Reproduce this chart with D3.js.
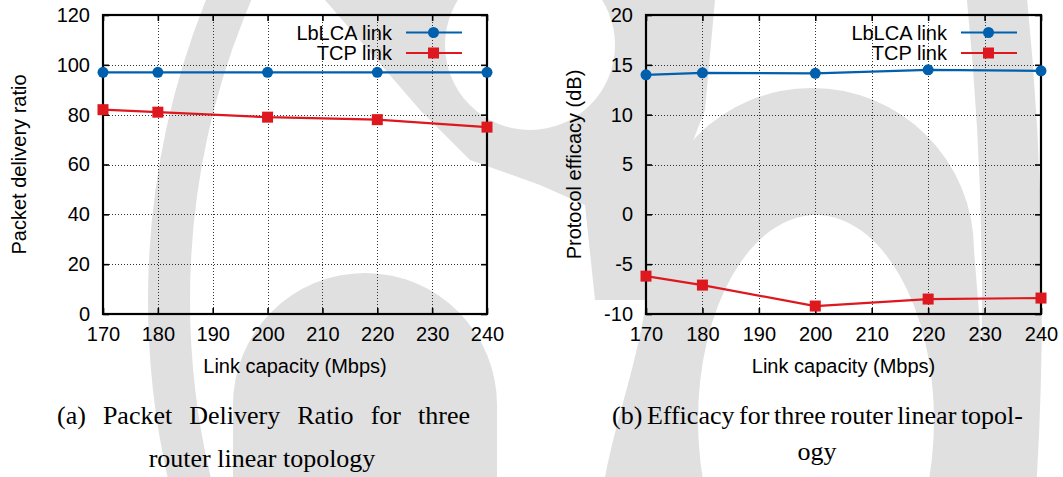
<!DOCTYPE html>
<html>
<head>
<meta charset="utf-8">
<script src="https://cdn.jsdelivr.net/npm/d3@7"></script>
<style>
  html, body { margin: 0; padding: 0; background: #ffffff; }
  svg { display: block; }
</style>
</head>
<body>
<svg id="fig" width="1063" height="477"></svg>
<script>
// Link capacities (Mbps) measured in both experiments
const capacity = [170, 180, 200, 220, 240];

// Packet delivery ratio per link type
const pdrLbLCA = [97, 97, 97, 97, 97];
const pdrTCP = [82, 81, 79, 78, 75];

// Protocol efficacy (dB) per link type
const effLbLCA = [14.0, 14.2, 14.15, 14.5, 14.4];
const effTCP = [-6.2, -7.1, -9.2, -8.5, -8.4];

// Axis ticks
const xTicks = [170, 180, 190, 200, 210, 220, 230, 240];
const pdrTicks = [0, 20, 40, 60, 80, 100, 120];
const effTicks = [-10, -5, 0, 5, 10, 15, 20];

const seriesNames = ["LbLCA link", "TCP link"];
const xTitle = "Link capacity (Mbps)";
const pdrTitle = "Packet delivery ratio";
const effTitle = "Protocol efficacy (dB)";
const captionA = ["(a) Packet Delivery Ratio for three", "router linear topology"];
const captionB = ["(b) Efficacy for three router linear topol-", "ogy"];

const BLUE = "#0060ad";
const RED = "#dd181f";
const SANS = "'Liberation Sans', Arial, Helvetica, sans-serif";
const SERIF = "'Liberation Serif', 'Times New Roman', serif";

const svg = d3.select("#fig");

// ---- faint background emblem ----
const bg = svg.append("g").attr("class", "emblem");
const EMB = "#e0e0e0";
// long sweeping band on the left
bg.append("circle").attr("cx", 954).attr("cy", 300).attr("r", 785)
  .attr("fill", "none").attr("stroke", EMB).attr("stroke-width", 42);
// long band on the right edge
bg.append("circle").attr("cx", -2000).attr("cy", 300).attr("r", 3012)
  .attr("fill", "none").attr("stroke", EMB).attr("stroke-width", 60);
// upper crescent
bg.append("path")
  .attr("d", "M325,0 L715,0 L705,110 L670,200 L660,300 L595,300 L585,205 L540,185 L470,160 L420,110 Z")
  .attr("fill", EMB);
bg.append("circle").attr("cx", 530).attr("cy", 45).attr("r", 85).attr("fill", "#ffffff");
// lower-left dome
bg.append("path")
  .attr("d", "M233,477 L233,405 A132,132 0 0 1 497,405 L497,477 Z")
  .attr("fill", EMB);
// lower-right arch
bg.append("path")
  .attr("d", "M605,477 C620,400 650,330 650,250 A162,162 0 0 1 974,250 L992,477 Z")
  .attr("fill", EMB);
bg.append("ellipse").attr("cx", 816).attr("cy", 420).attr("rx", 118).attr("ry", 205)
  .attr("fill", "#ffffff");

// ---- panel drawing ----
function drawPanel(opt) {
  const g = svg.append("g");
  const x = d3.scaleLinear().domain([170, 240]).range([opt.left, opt.right]);
  const y = d3.scaleLinear().domain(opt.yDomain).range([opt.bottom, opt.top]);

  // dotted grid
  const grid = g.append("g").attr("stroke", "#333").attr("stroke-width", 1)
    .attr("stroke-dasharray", "1,2");
  grid.selectAll("line.v").data(xTicks.slice(1, -1)).join("line")
    .attr("x1", d => Math.round(x(d)) + 0.5).attr("x2", d => Math.round(x(d)) + 0.5)
    .attr("y1", opt.bottom).attr("y2", opt.top);
  grid.selectAll("line.h").data(opt.yTicks.slice(1, -1)).join("line")
    .attr("y1", d => Math.round(y(d)) + 0.5).attr("y2", d => Math.round(y(d)) + 0.5)
    .attr("x1", opt.left).attr("x2", opt.right);

  // axes with inward ticks on all four sides
  const axB = d3.axisBottom(x).tickValues(xTicks).tickSize(-6).tickPadding(13)
    .tickFormat(d => String(d));
  const axT = d3.axisTop(x).tickValues(xTicks).tickSize(-6).tickFormat("");
  const axL = d3.axisLeft(y).tickValues(opt.yTicks).tickSize(-6).tickPadding(13)
    .tickFormat(d => String(d));
  const axR = d3.axisRight(y).tickValues(opt.yTicks).tickSize(-6).tickFormat("");

  const styleAxis = sel => {
    sel.select(".domain").remove();
    sel.selectAll(".tick line").attr("stroke", "#000").attr("stroke-width", 1.6);
    sel.selectAll(".tick text").attr("fill", "#000")
      .style("font-family", SANS).style("font-size", "20px");
  };
  g.append("g").attr("transform", `translate(0,${opt.bottom})`).call(axB).call(styleAxis);
  g.append("g").attr("transform", `translate(0,${opt.top})`).call(axT).call(styleAxis);
  g.append("g").attr("transform", `translate(${opt.left},0)`).call(axL).call(styleAxis);
  g.append("g").attr("transform", `translate(${opt.right},0)`).call(axR).call(styleAxis);

  // frame
  g.append("rect").attr("x", opt.left).attr("y", opt.top)
    .attr("width", opt.right - opt.left).attr("height", opt.bottom - opt.top)
    .attr("fill", "none").attr("stroke", "#000").attr("stroke-width", 2.2);

  // series
  const line = d3.line().x(d => x(d[0])).y(d => y(d[1]));
  const blue = capacity.map((c, i) => [c, opt.blue[i]]);
  const red = capacity.map((c, i) => [c, opt.red[i]]);

  g.append("path").datum(blue).attr("d", line).attr("fill", "none")
    .attr("stroke", BLUE).attr("stroke-width", 2.2);
  g.selectAll("circle.pt").data(blue).join("circle")
    .attr("cx", d => x(d[0])).attr("cy", d => y(d[1])).attr("r", 5.5).attr("fill", BLUE);

  g.append("path").datum(red).attr("d", line).attr("fill", "none")
    .attr("stroke", RED).attr("stroke-width", 2.2);
  g.selectAll("rect.pt").data(red).join("rect")
    .attr("x", d => x(d[0]) - 5.5).attr("y", d => y(d[1]) - 5.5)
    .attr("width", 11).attr("height", 11).attr("fill", RED);

  // legend
  const lg = g.append("g");
  const rows = [{name: seriesNames[0], color: BLUE, shape: "circle"},
                {name: seriesNames[1], color: RED, shape: "square"}];
  rows.forEach((r, i) => {
    const cy = opt.top + 17.5 + i * 20.5;
    lg.append("text").attr("x", opt.legendText).attr("y", cy).attr("dy", "0.35em")
      .attr("text-anchor", "end").style("font-family", SANS).style("font-size", "20px")
      .attr("fill", "#000").text(r.name);
    lg.append("line").attr("x1", opt.legendText + 14).attr("x2", opt.legendText + 70)
      .attr("y1", cy).attr("y2", cy).attr("stroke", r.color).attr("stroke-width", 2.2);
    const mx = opt.legendText + 41.5;
    if (r.shape === "circle") {
      lg.append("circle").attr("cx", mx).attr("cy", cy).attr("r", 5.5).attr("fill", r.color);
    } else {
      lg.append("rect").attr("x", mx - 5.5).attr("y", cy - 5.5)
        .attr("width", 11).attr("height", 11).attr("fill", r.color);
    }
  });

  // axis titles
  g.append("text").attr("x", (opt.left + opt.right) / 2).attr("y", 373)
    .attr("text-anchor", "middle").style("font-family", SANS).style("font-size", "20px")
    .attr("fill", "#000").text(xTitle);
  g.append("text")
    .attr("transform", `translate(${opt.yTitleX},${(opt.top + opt.bottom) / 2}) rotate(-90)`)
    .attr("text-anchor", "middle").attr("dy", "0.35em")
    .style("font-family", SANS).style("font-size", "20px")
    .attr("fill", "#000").text(opt.yTitle);
}

// justified caption line: words spread to fill [x0, x1]
function justifiedLine(str, x0, x1, baseline) {
  const words = str.split(" ");
  const g = svg.append("g");
  const nodes = words.map(w => g.append("text").attr("y", baseline)
    .style("font-family", SERIF).style("font-size", "26px").attr("fill", "#000").text(w));
  const widths = nodes.map(n => n.node().getComputedTextLength());
  const total = d3.sum(widths);
  const gap = (x1 - x0 - total) / (words.length - 1);
  let cx = x0;
  nodes.forEach((n, i) => { n.attr("x", cx); cx += widths[i] + gap; });
}
function centeredLine(str, cx, baseline) {
  svg.append("text").attr("x", cx).attr("y", baseline).attr("text-anchor", "middle")
    .style("font-family", SERIF).style("font-size", "26px").attr("fill", "#000").text(str);
}

drawPanel({
  left: 103, right: 487, top: 15, bottom: 314,
  yDomain: [0, 120], yTicks: pdrTicks,
  blue: pdrLbLCA, red: pdrTCP,
  legendText: 392, yTitle: pdrTitle, yTitleX: 19
});
drawPanel({
  left: 646, right: 1041, top: 15, bottom: 314,
  yDomain: [-10, 20], yTicks: effTicks,
  blue: effLbLCA, red: effTCP,
  legendText: 947, yTitle: effTitle, yTitleX: 574
});

justifiedLine(captionA[0], 57, 470, 423.5);
centeredLine(captionA[1], 262, 467);
justifiedLine(captionB[0], 612, 1023, 423.5);
centeredLine(captionB[1], 817, 460);
</script>
</body>
</html>
